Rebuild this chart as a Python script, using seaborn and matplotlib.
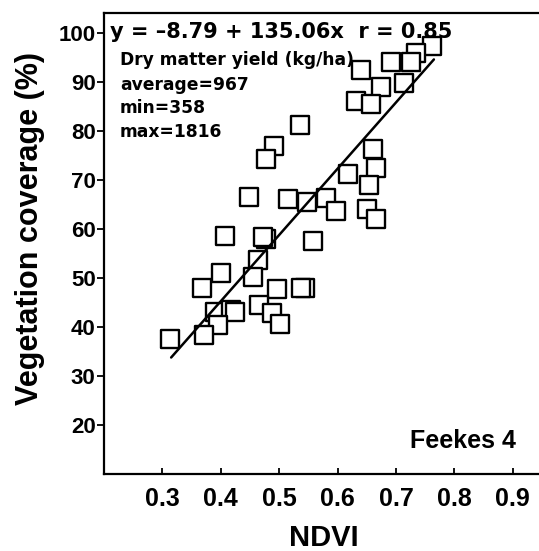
import numpy as np
import pandas as pd
import matplotlib
matplotlib.use("Agg")
import matplotlib.pyplot as plt
import seaborn as sns

# ---- data ----
ndvi = [0.761, 0.735, 0.726, 0.691, 0.641, 0.675, 0.713, 0.631, 0.658, 0.535,
        0.492, 0.478, 0.661, 0.665, 0.618, 0.654, 0.449, 0.515, 0.548, 0.581,
        0.598, 0.650, 0.666, 0.408, 0.477, 0.473, 0.558, 0.464, 0.455, 0.400,
        0.368, 0.497, 0.544, 0.538, 0.465, 0.390, 0.418, 0.424, 0.487, 0.395,
        0.501, 0.372, 0.313]
coverage = [97.2, 95.9, 94.1, 94.1, 92.3, 89.0, 89.7, 86.1, 85.4, 81.2,
            76.8, 74.2, 76.3, 72.4, 71.2, 69.0, 66.5, 66.1, 65.4, 66.3,
            63.7, 64.0, 62.0, 58.6, 58.0, 58.4, 57.6, 53.7, 50.1, 51.0,
            47.9, 47.7, 47.9, 48.0, 44.5, 43.1, 43.5, 43.1, 42.8, 40.4,
            40.6, 38.4, 37.5]
intercept = -8.79
slope = 135.06
fit_range = [0.315, 0.765]
x_ticks = [0.3, 0.4, 0.5, 0.6, 0.7, 0.8, 0.9]
y_ticks = [20, 30, 40, 50, 60, 70, 80, 90, 100]
equation_text = "y = \u20138.79 + 135.06x  r = 0.85"
info_lines = ["Dry matter yield (kg/ha)", "average=967", "min=358", "max=1816"]
stage_text = "Feekes 4"

sns.set_theme(style="white")
plt.rcParams["font.family"] = ["Liberation Sans", "DejaVu Sans"]
plt.rcParams["text.color"] = "black"
plt.rcParams["axes.labelcolor"] = "black"
plt.rcParams["xtick.color"] = "black"
plt.rcParams["ytick.color"] = "black"

W, H = 539, 551
fig = plt.figure(figsize=(W / 100, H / 100), dpi=100)
ax = fig.add_axes([104 / W, 1 - 474 / H, 1 - 104 / W, (474 - 13) / H])

df = pd.DataFrame({"NDVI": ndvi, "cov": coverage})
sns.scatterplot(data=df, x="NDVI", y="cov", ax=ax, marker="s", s=170,
                facecolor="white", edgecolor="black", linewidth=1.7, zorder=3)

fx = np.array(fit_range)
fit = pd.DataFrame({"x": fx, "y": intercept + slope * fx})
sns.lineplot(data=fit, x="x", y="y", ax=ax, color="black", linewidth=1.8, zorder=4)

ax.set_xlim(0.2, 0.945)
ax.set_ylim(10, 104)
ax.set_xticks(x_ticks)
ax.set_yticks(y_ticks)
ax.set_xticklabels([f"{v:.1f}" for v in x_ticks], fontsize=18, fontweight="bold", color="black")
ax.set_yticklabels([str(v) for v in y_ticks], fontsize=16, fontweight="bold", color="black")
ax.tick_params(axis="x", direction="in", length=4, width=1.3, pad=9, colors="black", bottom=True)
ax.tick_params(axis="y", direction="out", length=5, width=1.3, pad=1, colors="black", left=True)

for side in ["left", "bottom", "top"]:
    ax.spines[side].set_visible(True)
    ax.spines[side].set_color("black")
    ax.spines[side].set_linewidth(1.6)
ax.spines["right"].set_visible(False)

ax.set_xlabel("NDVI", fontsize=21, fontweight="bold", color="black", va="center")
ax.xaxis.set_label_coords((324 - 104) / 435, (474 - 538) / 461)
ax.set_ylabel("Vegetation coverage (%)", fontsize=22, fontweight="bold", color="black",
              va="center")
ax.yaxis.set_label_coords((30 - 104) / 435, (474 - 228) / 461)

ax.text(0.21, 99.0, equation_text, fontsize=15, fontweight="bold", color="black",
        family="DejaVu Sans", va="baseline", ha="left", zorder=2)
for txt, yb in zip(info_lines, [93.3, 88.2, 83.7, 78.8]):
    ax.text(0.2274, yb, txt, fontsize=12.3, fontweight="bold", color="black",
            family="DejaVu Sans", va="baseline", ha="left", zorder=2)
ax.text(0.724, 15.3, stage_text, fontsize=18, fontweight="bold", color="black",
        va="baseline", ha="left", zorder=2)

fig.savefig("out.png", dpi=100, facecolor="white")
